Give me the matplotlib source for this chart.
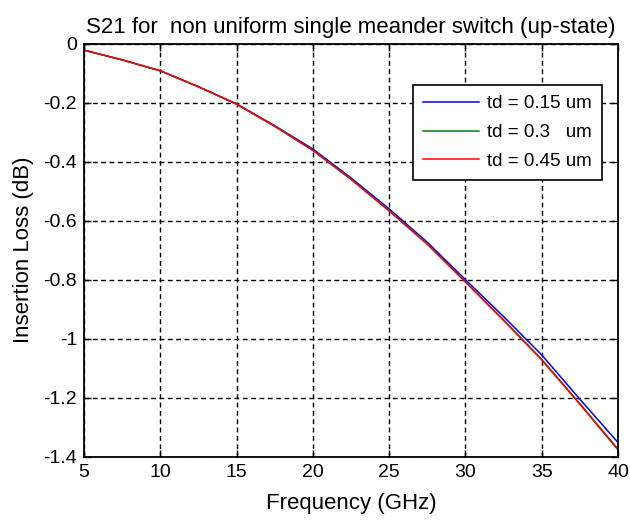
import matplotlib
matplotlib.use("Agg")
import matplotlib.pyplot as plt

plt.rcParams['font.family'] = ['Liberation Sans', 'DejaVu Sans']

freq = [5, 7.5, 10, 12.5, 15, 17.5, 20, 22.5, 25, 27.5, 30, 32.5, 35, 37.5, 40]
s21_015 = [-0.022, -0.055, -0.092, -0.146, -0.204, -0.278, -0.357, -0.455, -0.560, -0.673, -0.800, -0.925, -1.055, -1.205, -1.352]
s21_030 = [-0.022, -0.055, -0.092, -0.146, -0.205, -0.280, -0.361, -0.459, -0.566, -0.679, -0.807, -0.936, -1.070, -1.220, -1.374]
s21_045 = [-0.022, -0.055, -0.092, -0.146, -0.205, -0.280, -0.362, -0.460, -0.567, -0.680, -0.808, -0.938, -1.072, -1.222, -1.377]
labels = ['td = 0.15 um', 'td = 0.3   um', 'td = 0.45 um']
xticks = [5, 10, 15, 20, 25, 30, 35, 40]
yticks = [0, -0.2, -0.4, -0.6, -0.8, -1, -1.2, -1.4]
yticklabels = ['0', '-0.2', '-0.4', '-0.6', '-0.8', '-1', '-1.2', '-1.4']

fig = plt.figure(figsize=(6.3, 5.21), dpi=100)
ax = fig.add_axes([0.1333, 0.1235, 0.8476, 0.7927])
ax.plot(freq, s21_015, color='#0000ff', lw=1.1, label=labels[0])
ax.plot(freq, s21_030, color='#008000', lw=1.1, label=labels[1])
ax.plot(freq, s21_045, color='#ff0000', lw=1.1, label=labels[2])
ax.set_xlim(5, 40)
ax.set_ylim(-1.4, 0)
ax.set_xticks(xticks)
ax.set_yticks(yticks)
ax.set_yticklabels(yticklabels)
ax.tick_params(labelsize=14, direction='in', length=5, width=1, top=True, right=True, pad=5)
ax.grid(True, color='black', linestyle=(0, (3.5, 2.5)), linewidth=1)
for s in ax.spines.values():
    s.set_linewidth(1.3)
ax.set_title('S21 for  non uniform single meander switch (up-state)', fontsize=16, pad=8)
ax.set_xlabel('Frequency (GHz)', fontsize=16, labelpad=9)
ax.set_ylabel('Insertion Loss (dB)', fontsize=16, labelpad=7)
leg = ax.legend(loc='upper right', bbox_to_anchor=(0.970, 0.900), fontsize=13.5,
                fancybox=False, edgecolor='black', framealpha=1, borderpad=0.55,
                handlelength=3.0, handletextpad=0.4, labelspacing=0.62, borderaxespad=0)
leg.get_frame().set_linewidth(1.2)
fig.savefig('out.png', dpi=100)
